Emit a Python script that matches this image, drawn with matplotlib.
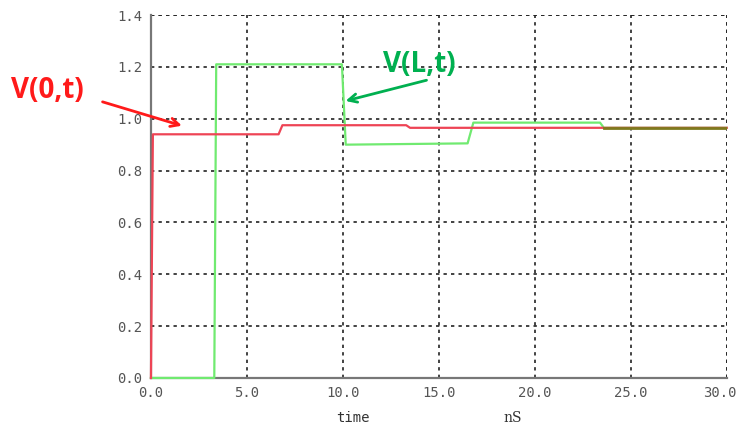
import matplotlib
import numpy as np
from matplotlib import pyplot as plt
from matplotlib import transforms

matplotlib.use('Agg')

# voltage at the source end, V(0,t)
t_src = [0, 0.1, 6.65, 6.85, 13.3, 13.5, 30]
v_src = [0, 0.94, 0.94, 0.975, 0.975, 0.965, 0.965]

# voltage at the load end, V(L,t)
t_load = [0, 3.3, 3.4, 9.95, 10.15, 16.5, 16.8, 23.4, 23.6, 30]
v_load = [0, 0, 1.21, 1.21, 0.9, 0.905, 0.985, 0.985, 0.965, 0.965]

t_merge = 23.6  # both ends settle to the same level from here

x_ticks = [0, 5, 10, 15, 20, 25, 30]
y_ticks = [0, 0.2, 0.4, 0.6, 0.8, 1.0, 1.2, 1.4]

fig = plt.figure(figsize=(7.4, 4.3), dpi=100)
ax = fig.add_axes([0.204, 0.121, 0.778, 0.844])

ax.plot(t_load, v_load, color='#70ea70', lw=1.6, zorder=3, clip_on=False)
ax.plot(t_src, v_src, color='#ee4455', lw=1.6, zorder=4, clip_on=False)
tm = np.array(t_src)
ax.plot([t_merge, 30], [np.interp(t_merge, tm, v_src)] * 2,
        color='#7d7a1e', lw=2.0, zorder=5)

ax.set_xlim(0, 30)
ax.set_ylim(0, 1.4)
ax.set_xticks(x_ticks)
ax.set_yticks(y_ticks)
ax.set_xticklabels([f'{v:.1f}' for v in x_ticks])
ax.set_yticklabels([f'{v:.1f}' for v in y_ticks])
ax.tick_params(length=0, labelsize=10, labelcolor='#555555', pad=6)
for lab in ax.get_xticklabels() + ax.get_yticklabels():
    lab.set_family('DejaVu Sans Mono')
# keep the last x label inside the canvas
last = ax.get_xticklabels()[-1]
last.set_transform(last.get_transform() +
                   transforms.ScaledTranslation(-5 / 72, 0, fig.dpi_scale_trans))

ax.grid(True, color='#222222', linestyle=(0, (2, 2.5)), lw=1.2)
ax.axvline(30, color='#222222', linestyle=(0, (2, 2.5)), lw=1.2)
ax.axhline(1.4, color='#222222', linestyle=(0, (2, 2.5)), lw=1.2)
ax.spines['top'].set_visible(False)
ax.spines['right'].set_visible(False)
ax.spines['left'].set_color('#777777')
ax.spines['bottom'].set_color('#777777')
ax.spines['left'].set_linewidth(1.6)
ax.spines['bottom'].set_linewidth(1.6)

trans = transforms.blended_transform_factory(ax.transData, fig.transFigure)
ax.text(10.5, 0.028, 'time', transform=trans, ha='center', va='center',
        family='DejaVu Sans Mono', fontsize=10, color='#333333')
ax.text(18.85, 0.028, 'nS', transform=trans, ha='center', va='center',
        family='DejaVu Serif', fontsize=10, color='#333333')

# curve labels
fig.text(0.064, 0.79, 'V(0,t)', color='#ff1a1a', fontsize=20,
         fontweight='bold', ha='center', va='center', family='Open Sans')
fig.text(0.566, 0.85, 'V(L,t)', color='#00b050', fontsize=20,
         fontweight='bold', ha='center', va='center', family='Open Sans')
ax.annotate('', xy=(1.75, 0.97), xycoords='data',
            xytext=(0.135, 0.765), textcoords='figure fraction',
            arrowprops=dict(arrowstyle='->', color='#ff1a1a', lw=2,
                            mutation_scale=15))
ax.annotate('', xy=(10.0, 1.066), xycoords='data',
            xytext=(0.58, 0.815), textcoords='figure fraction',
            arrowprops=dict(arrowstyle='->', color='#00b050', lw=2,
                            mutation_scale=15))

fig.savefig('out.png', dpi=100)
